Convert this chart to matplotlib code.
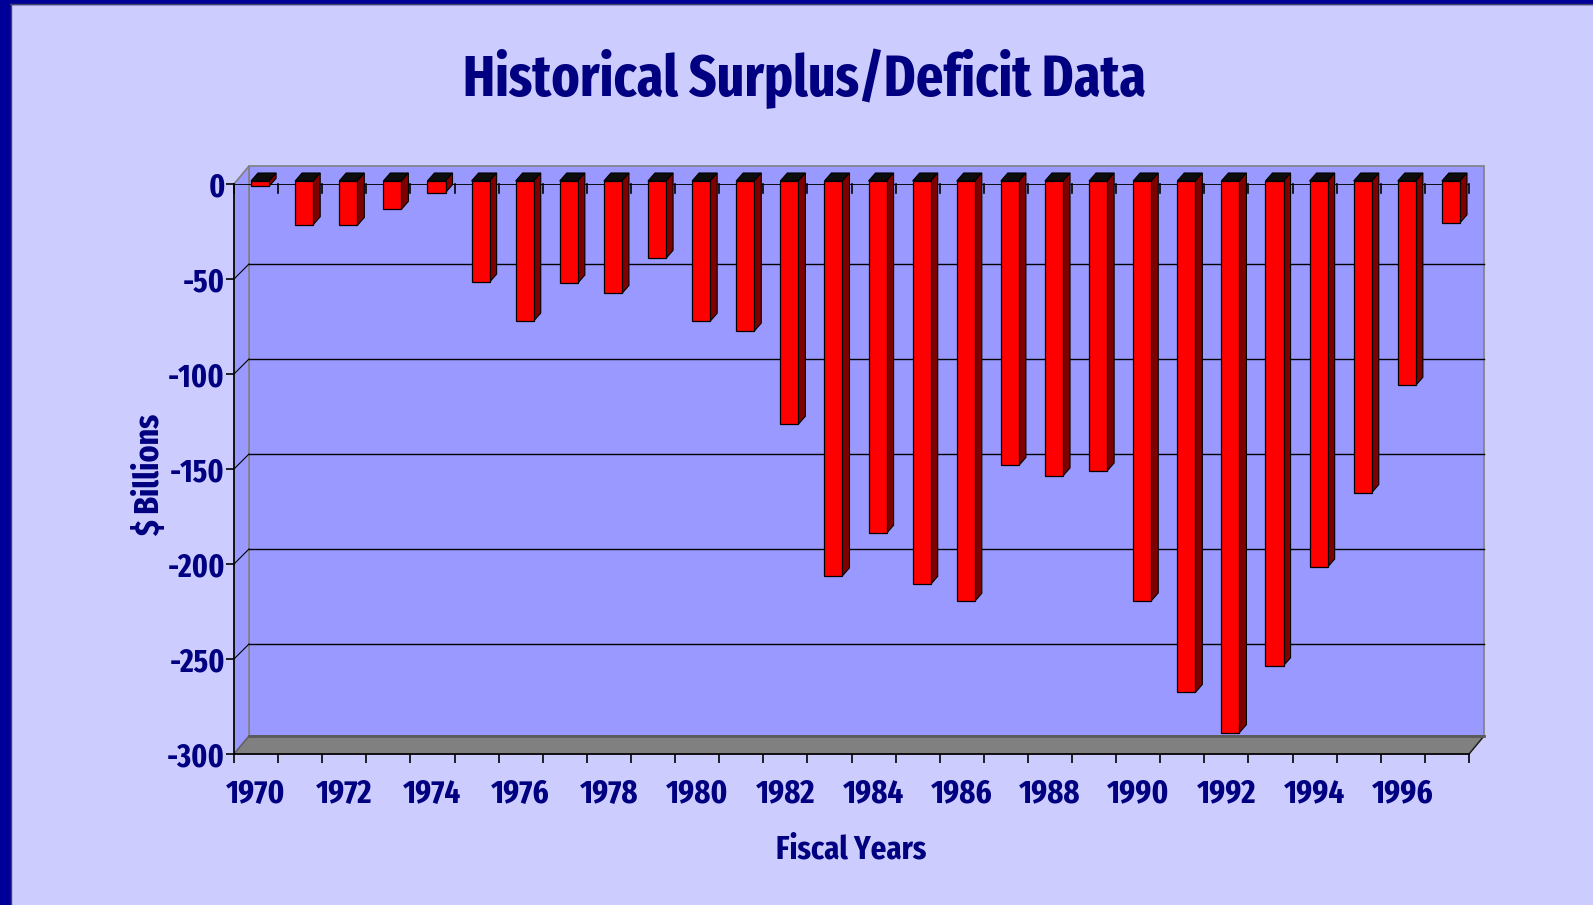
import numpy as np
import matplotlib
matplotlib.use("Agg")
import matplotlib.pyplot as plt
from matplotlib.patches import Polygon, Rectangle
from matplotlib.lines import Line2D
from matplotlib.transforms import IdentityTransform

# data (US federal surplus/deficit, $ billions)
years = list(range(1970, 1998))
deficit = [-2.8, -23.0, -23.4, -14.9, -6.1, -53.2, -73.7, -53.7, -59.2, -40.7,
           -73.8, -79.0, -128.0, -207.8, -185.4, -212.3, -221.2, -149.7, -155.2,
           -152.6, -221.0, -269.2, -290.3, -255.1, -203.2, -164.0, -107.5, -22.0]
y_ticks = [0, -50, -100, -150, -200, -250, -300]
x_labels = [str(y) if y % 2 == 0 else "" for y in years]

navy = "#000080"
plt.rcParams["font.family"] = ["Fira Sans Extra Condensed", "Fira Sans Condensed", "DejaVu Sans"]

W, H = 1593, 905
fig = plt.figure(figsize=(W / 100, H / 100), dpi=100, facecolor="#CCCCFF")
ax = fig.add_axes([234 / W, 151 / H, 1235 / W, 570 / H])
n = len(years)
ax.set_xlim(-0.5, n - 0.5)
ax.set_ylim(-300, 0)
ax.patch.set_visible(False)
for s in ["top", "right"]:
    ax.spines[s].set_visible(False)
for s in ["left", "bottom"]:
    ax.spines[s].set_color("black")
    ax.spines[s].set_linewidth(1.2)

I = IdentityTransform()


def pts(xs, ys, offs):
    d = ax.transData.transform(np.column_stack([xs, ys]))
    return d + np.array(offs, dtype=float)


def poly(xy, fc, ec="none", lw=0.0, z=1):
    p = Polygon(xy, closed=True, fc=fc, ec=ec, lw=lw, transform=I, zorder=z, clip_on=False)
    ax.add_artist(p)


def line(xy, c="black", lw=1.0, z=1.5):
    xy = np.asarray(xy)
    ax.add_artist(Line2D(xy[:, 0], xy[:, 1], color=c, lw=lw, transform=I, zorder=z, clip_on=False))


x0, x1 = -0.5, n - 0.5
ymin, ymax = -300, 0
grid_off = (15, 15)
edge_off = (15, 18)

# back wall, side wall, floor
poly(pts([x0, x1, x1, x0], [ymin, ymin, ymax, ymax], [edge_off] * 4),
     "#9999FF", "#808080", 1.2, 0.5)
poly(pts([x0, x0, x0, x0], [ymax, ymin, ymin, ymax], [(0, 0), (0, 0), edge_off, edge_off]),
     "#9999FF", "#808080", 1.2, 0.6)
poly(pts([x0, x1, x1, x0], [ymin, ymin, ymin, ymin], [(0, 0), (0, 0), edge_off, edge_off]),
     "#808080", "#606060", 1.0, 0.7)
line(pts([x1, x1], [ymin, ymin], [(0, 0), edge_off]), "#202020", 1.0, 0.8)
line(pts([x0, x1], [ymin, ymin], [edge_off, edge_off]), "#5a5a5a", 2.0, 0.8)

# gridlines on wall
for v in y_ticks[1:-1]:
    line(pts([x0, x1], [v, v], [grid_off, grid_off]), "black", 1.0, 0.9)
    line(pts([x0, x0], [v, v], [(0, 0), grid_off]), "black", 0.8, 0.9)

# category axis at zero with hanging ticks
ax.axhline(0, color="black", lw=1.3, zorder=2)
for b in np.arange(n + 1) - 0.5:
    p = pts([b], [0], [(0, 0)])[0]
    line([p, p - [0, 9]], "black", 1.2, 2)

# bars
bw = 0.41
f_off = (4, 3)
b_off = (11, 11)
for i, v in enumerate(deficit):
    l, r = i - bw / 2, i + bw / 2
    poly(pts([l, r, r, l], [0, 0, 0, 0], [f_off, f_off, b_off, b_off]), "#0d0d0d", "black", 0.8, 3)
    poly(pts([r, r, r, r], [0, v, v, 0], [f_off, f_off, b_off, b_off]), "#800000", "black", 0.8, 3)
    poly(pts([l, r, r, l], [0, 0, v, v], [f_off] * 4), "#FF0000", "black", 0.9, 3.1)

# ticks and labels
ax.set_yticks(y_ticks)
ax.set_yticklabels([str(t) for t in y_ticks])
ax.tick_params(axis="y", length=6, width=1.2, color="black", pad=0.5,
               labelsize=23, labelcolor=navy)
ax.set_xticks(range(n))
ax.set_xticklabels(x_labels)
ax.set_xticks(np.arange(n + 1) - 0.5, minor=True)
ax.tick_params(axis="x", which="major", length=0, pad=17, labelsize=24, labelcolor=navy)
ax.tick_params(axis="x", which="minor", length=6.5, width=1.2, color="black")
for t in ax.get_xticklabels() + ax.get_yticklabels():
    t.set_fontweight("bold")

fig.text(805 / W, 1 - 96 / H, "Historical Surplus/Deficit Data", ha="center", va="baseline",
         fontsize=42, fontweight="bold", color=navy)
fig.text(851 / W, 1 - 858 / H, "Fiscal Years", ha="center", va="baseline",
         fontsize=24, fontweight="bold", color=navy)
fig.text(150 / W, 1 - 475 / H, "$ Billions", ha="center", va="center", rotation=90,
         fontsize=25, fontweight="bold", color=navy)

# frame border
fig.patches.append(Rectangle((0, 0), 10 / W, 1, transform=fig.transFigure, color="#000099", zorder=0))
fig.patches.append(Rectangle((0, 1 - 4 / H), 1, 4 / H, transform=fig.transFigure, color="#000099", zorder=0))
fig.lines.append(Line2D([10.5 / W, 10.5 / W], [0, 1 - 4 / H], transform=fig.transFigure, color="#444466", lw=1))
fig.lines.append(Line2D([10 / W, 1], [1 - 4.5 / H, 1 - 4.5 / H], transform=fig.transFigure, color="#444466", lw=1))

fig.savefig("out.png", dpi=100, facecolor=fig.get_facecolor())
